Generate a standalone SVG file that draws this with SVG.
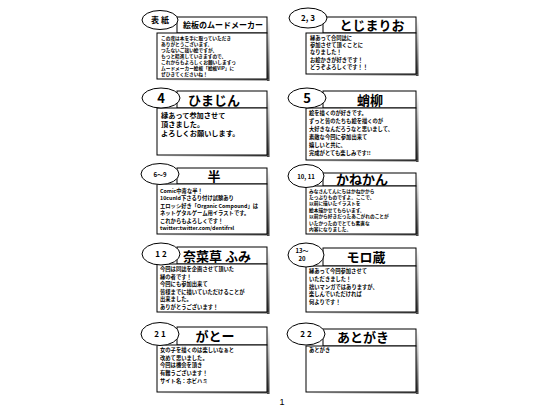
<svg xmlns="http://www.w3.org/2000/svg" width="560" height="420" viewBox="0 0 560 420">
<defs>
<linearGradient id="sh" x1="0" y1="0" x2="0" y2="1">
<stop offset="0" stop-color="#ffffff"/>
<stop offset="1" stop-color="#333333"/>
</linearGradient>
<linearGradient id="shb" x1="0" y1="0" x2="1" y2="0">
<stop offset="0" stop-color="#ffffff"/>
<stop offset="1" stop-color="#555555"/>
</linearGradient>
</defs>
<style>
.box{fill:#fff;stroke:#000;stroke-width:1}
.ell{fill:#fff;stroke:#000;stroke-width:1}
.t{font-family:"Noto Sans CJK JP","Noto Sans",sans-serif;fill:#000}
.title{font-size:13px;font-weight:bold;text-anchor:middle}
.lab{font-size:8px;font-weight:bold;text-anchor:middle}
.bs{font-size:10.6px;font-weight:bold}
.bd{font-size:9.4px;font-weight:bold}
.b2{font-size:7.2px;font-weight:bold}
.num{font-family:"Liberation Sans",sans-serif;font-size:9px;text-anchor:middle;fill:#000}
</style>
<rect width="560" height="420" fill="#fff"/>

<g id="cell-hyoshi">
<rect x="267" y="19" width="2.5" height="62" fill="url(#sh)"/>
<rect x="159" y="79" width="110" height="1.5" fill="url(#shb)"/>
<rect class="box" x="177" y="17" width="90" height="16"/>
<rect class="box" x="157" y="33" width="110" height="46"/>
<ellipse class="ell" cx="160" cy="20" rx="18" ry="9.5"/>
<text class="t lab" x="160" y="23">表 紙</text>
<text class="t" x="183" y="28" font-size="8" font-weight="bold">絵板のムードメーカー</text>
<g transform="translate(161,39.5) scale(0.5)"><text class="t bd"><tspan x="0" y="0">この度は本を手に取っていただき</tspan><tspan x="0" dy="12.3">ありがとうございます。</tspan><tspan x="0" dy="12.3">つたないご拙い絵ですが、</tspan><tspan x="0" dy="12.3">もっと精進していきますので、</tspan><tspan x="0" dy="12.3">これからもよろしくお願いしますっ</tspan><tspan x="0" dy="12.3">ムードメーカー絵板「絵板VIP」に</tspan><tspan x="0" dy="12.3">ぜひきてくださいね！</tspan></text></g>
</g>

<g id="cell-tojimario">
<rect x="416" y="19" width="2.5" height="57" fill="url(#sh)"/>
<rect x="308" y="74" width="110" height="1.5" fill="url(#shb)"/>
<rect class="box" x="323" y="17" width="93" height="16"/>
<rect class="box" x="306" y="33" width="110" height="41"/>
<ellipse class="ell" cx="308" cy="18" rx="19" ry="10"/>
<text class="t lab" x="308" y="21">2, 3</text>
<text class="t title" x="372" y="30" font-size="14">とじまりお</text>
<g transform="translate(310,40) scale(0.5)"><text class="t bs"><tspan x="0" y="0">縁あって合同誌に</tspan><tspan x="0" dy="14.4">参加させて頂くことに</tspan><tspan x="0" dy="14.4">なりました！</tspan><tspan x="0" dy="14.4">お絵かきが好きです！</tspan><tspan x="0" dy="14.4">どうぞよろしくです！！</tspan></text></g>
</g>

<g id="cell-himajin">
<rect x="267" y="93" width="2.5" height="64" fill="url(#sh)"/>
<rect x="159" y="155" width="110" height="1.5" fill="url(#shb)"/>
<rect class="box" x="177" y="91" width="90" height="17"/>
<rect class="box" x="157" y="108" width="110" height="47"/>
<ellipse class="ell" cx="161" cy="98" rx="19" ry="10"/>
<text class="t" x="161" y="103" font-size="13" font-weight="bold" text-anchor="middle" font-family="Liberation Sans,sans-serif">4</text>
<text class="t title" x="214" y="105">ひまじん</text>
<text class="t b2" x="161" y="118"><tspan x="161">縁あって参加させて</tspan><tspan x="161" dy="9">頂きました。</tspan><tspan x="161" dy="9">よろしくお願いします。</tspan></text>
</g>

<g id="cell-takoyanagi">
<rect x="416" y="93" width="2.5" height="69" fill="url(#sh)"/>
<rect x="308" y="160" width="110" height="1.5" fill="url(#shb)"/>
<rect class="box" x="323" y="91" width="93" height="17"/>
<rect class="box" x="306" y="108" width="110" height="52"/>
<ellipse class="ell" cx="307" cy="98" rx="19" ry="10"/>
<text class="t" x="307" y="103" font-size="13" font-weight="bold" text-anchor="middle" font-family="Liberation Sans,sans-serif">5</text>
<text class="t title" x="370" y="105">蛸柳</text>
<g transform="translate(309,115) scale(0.5)"><text class="t bs"><tspan x="0" y="0">絵を描くのが好きです。</tspan><tspan x="0" dy="16">ずっと皆のたちも絵を描くのが</tspan><tspan x="0" dy="16">大好きなんだろうなと思いまして、</tspan><tspan x="0" dy="16">素敵な今回に参加出来て</tspan><tspan x="0" dy="16">嬉しいと共に、</tspan><tspan x="0" dy="16">完成がとても楽しみです!!</tspan></text></g>
</g>

<g id="cell-han">
<rect x="267" y="170" width="2.5" height="66" fill="url(#sh)"/>
<rect x="159" y="234" width="110" height="1.5" fill="url(#shb)"/>
<rect class="box" x="177" y="168" width="90" height="16"/>
<rect class="box" x="157" y="184" width="110" height="50"/>
<ellipse class="ell" cx="160" cy="174" rx="19" ry="10.5"/>
<text class="t" x="160" y="177" font-size="6" font-weight="bold" text-anchor="middle">6～9</text>
<text class="t title" x="214" y="181">半</text>
<g transform="translate(160,193) scale(0.5)"><text class="t bs"><tspan x="0" y="0">Comic中毒な半！</tspan><tspan x="0" dy="14.8">10cunld下さるり付け試験あり</tspan><tspan x="0" dy="14.8">エロッシ好き「Organic Compound」は</tspan><tspan x="0" dy="14.8">ネットゲタルゲーム用イラストです。</tspan><tspan x="0" dy="14.8">これからもよろしくです！</tspan><tspan x="0" dy="14.8">twitter:twitter.com/dentifrsl</tspan></text></g>
</g>

<g id="cell-kanekan">
<rect x="416" y="175" width="2.5" height="61" fill="url(#sh)"/>
<rect x="308" y="234" width="110" height="1.5" fill="url(#shb)"/>
<rect class="box" x="323" y="173" width="93" height="13"/>
<rect class="box" x="306" y="186" width="110" height="48"/>
<ellipse class="ell" cx="306" cy="176" rx="18" ry="11.5"/>
<text class="t" x="306" y="179" font-size="6" font-weight="bold" text-anchor="middle">10, 11</text>
<text class="t title" x="362" y="184">かねかん</text>
<g transform="translate(309,192.5) scale(0.5)"><text class="t bd"><tspan x="0" y="0">みなさんてんにちはかねかから</tspan><tspan x="0" dy="12.8">たっぷりものですよ。ここで、</tspan><tspan x="0" dy="12.8">以前に描いたイラストを</tspan><tspan x="0" dy="12.8">絵本描かせてもらいます。</tspan><tspan x="0" dy="12.8">以前から好きだったあこがれのことが</tspan><tspan x="0" dy="12.8">いたかったのでとても素直な</tspan><tspan x="0" dy="12.8">内容になりました。</tspan></text></g>
</g>

<g id="cell-nanakusa">
<rect x="267" y="249" width="2.5" height="65" fill="url(#sh)"/>
<rect x="159" y="312" width="110" height="1.5" fill="url(#shb)"/>
<rect class="box" x="177" y="247" width="90" height="17"/>
<rect class="box" x="157" y="264" width="110" height="48"/>
<ellipse class="ell" cx="161" cy="254" rx="19" ry="11"/>
<text class="t" x="161" y="257" font-size="8" font-weight="bold" text-anchor="middle">1 2</text>
<text class="t title" x="217" y="261">奈菜草 ふみ</text>
<g transform="translate(160,271) scale(0.5)"><text class="t bs"><tspan x="0" y="0">今回は同誌を企画させて頂いた</tspan><tspan x="0" dy="15">縁の者です！</tspan><tspan x="0" dy="15">今回にも参加出来て</tspan><tspan x="0" dy="15">皆様までに描いていただけることが</tspan><tspan x="0" dy="15">出来ました。</tspan><tspan x="0" dy="15">ありがとうございます！</tspan></text></g>
</g>

<g id="cell-morozo">
<rect x="416" y="250" width="2.5" height="64" fill="url(#sh)"/>
<rect x="308" y="312" width="110" height="1.5" fill="url(#shb)"/>
<rect class="box" x="323" y="248" width="93" height="18"/>
<rect class="box" x="306" y="266" width="110" height="46"/>
<ellipse class="ell" cx="306" cy="255" rx="18" ry="12"/>
<text class="t" x="302" y="253" font-size="6" font-weight="bold" text-anchor="middle">13～</text>
<text class="t" x="302" y="261" font-size="6" font-weight="bold" text-anchor="middle">20</text>
<text class="t title" x="366" y="262">モロ蔵</text>
<g transform="translate(309,273) scale(0.5)"><text class="t bs" font-size="11.6"><tspan x="0" y="0">縁あって今回参加させて</tspan><tspan x="0" dy="15.6">いただきました！</tspan><tspan x="0" dy="15.6">拙いマンガではありますが、</tspan><tspan x="0" dy="15.6">楽しんでいただければ</tspan><tspan x="0" dy="15.6">何よりです！</tspan></text></g>
</g>

<g id="cell-gato">
<rect x="267" y="329" width="2.5" height="65" fill="url(#sh)"/>
<rect x="159" y="392" width="110" height="1.5" fill="url(#shb)"/>
<rect class="box" x="177" y="327" width="90" height="18"/>
<rect class="box" x="157" y="345" width="110" height="47"/>
<ellipse class="ell" cx="160" cy="334" rx="19" ry="11.5"/>
<text class="t" x="160" y="337" font-size="8" font-weight="bold" text-anchor="middle">2 1</text>
<text class="t title" x="215" y="341">がとー</text>
<g transform="translate(160,352) scale(0.5)"><text class="t bs" font-size="11.6"><tspan x="0" y="0">女の子を描くのは楽しいなぁと</tspan><tspan x="0" dy="15.4">改めて思いました。</tspan><tspan x="0" dy="15.4">今回は機会を頂き</tspan><tspan x="0" dy="15.4">有難うございます！</tspan><tspan x="0" dy="15.4">サイト名：ホビハミ</tspan></text></g>
</g>

<g id="cell-atogaki">
<rect x="416" y="331" width="2.5" height="63" fill="url(#sh)"/>
<rect x="308" y="392" width="110" height="1.5" fill="url(#shb)"/>
<rect class="box" x="323" y="329" width="93" height="17"/>
<rect class="box" x="306" y="346" width="110" height="46"/>
<ellipse class="ell" cx="306" cy="334" rx="19" ry="11"/>
<text class="t" x="306" y="337" font-size="8" font-weight="bold" text-anchor="middle">2 2</text>
<text class="t title" x="363" y="342">あとがき</text>
<g transform="translate(309,352) scale(0.5)"><text class="t bs">あとがき</text></g>
</g>

<g id="connectors"></g>

<text class="num" x="282" y="405" fill="#000">1</text>
</svg>
